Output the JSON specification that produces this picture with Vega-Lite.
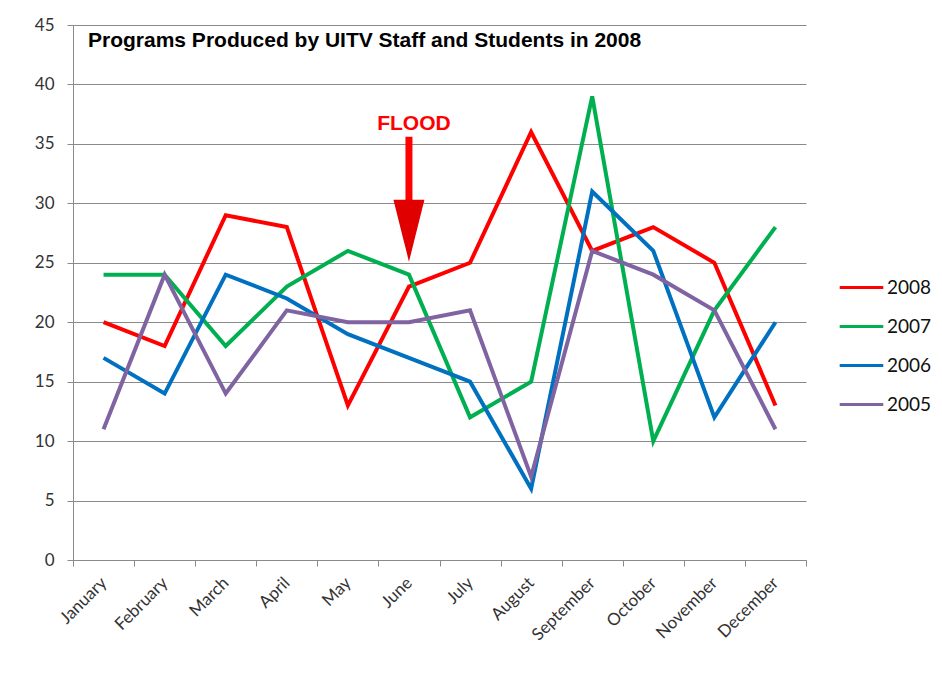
{
  "$schema": "https://vega.github.io/schema/vega-lite/v6.json",
  "width": 733,
  "height": 535,
  "autosize": {"type": "none"},
  "padding": {"left": 73, "top": 25, "right": 136, "bottom": 124},
  "background": "white",
  "title": {
    "text": "Programs Produced by UITV Staff and Students in 2008",
    "anchor": "start",
    "frame": "group",
    "orient": "top",
    "offset": -35,
    "dx": 15,
    "font": "Liberation Sans",
    "fontSize": 21,
    "fontWeight": "bold",
    "color": "black"
  },
  "config": {
    "view": {"stroke": null},
    "axis": {"gridColor": "#8a8a8a", "domainColor": "#8a8a8a", "tickColor": "#8a8a8a", "gridOpacity": 1}
  },
  "layer": [
    {
      "data": {"values": [
        {"month": "January", "year": "2008", "value": 20},
        {"month": "February", "year": "2008", "value": 18},
        {"month": "March", "year": "2008", "value": 29},
        {"month": "April", "year": "2008", "value": 28},
        {"month": "May", "year": "2008", "value": 13},
        {"month": "June", "year": "2008", "value": 23},
        {"month": "July", "year": "2008", "value": 25},
        {"month": "August", "year": "2008", "value": 36},
        {"month": "September", "year": "2008", "value": 26},
        {"month": "October", "year": "2008", "value": 28},
        {"month": "November", "year": "2008", "value": 25},
        {"month": "December", "year": "2008", "value": 13},
        {"month": "January", "year": "2007", "value": 24},
        {"month": "February", "year": "2007", "value": 24},
        {"month": "March", "year": "2007", "value": 18},
        {"month": "April", "year": "2007", "value": 23},
        {"month": "May", "year": "2007", "value": 26},
        {"month": "June", "year": "2007", "value": 24},
        {"month": "July", "year": "2007", "value": 12},
        {"month": "August", "year": "2007", "value": 15},
        {"month": "September", "year": "2007", "value": 39},
        {"month": "October", "year": "2007", "value": 10},
        {"month": "November", "year": "2007", "value": 21},
        {"month": "December", "year": "2007", "value": 28},
        {"month": "January", "year": "2006", "value": 17},
        {"month": "February", "year": "2006", "value": 14},
        {"month": "March", "year": "2006", "value": 24},
        {"month": "April", "year": "2006", "value": 22},
        {"month": "May", "year": "2006", "value": 19},
        {"month": "June", "year": "2006", "value": 17},
        {"month": "July", "year": "2006", "value": 15},
        {"month": "August", "year": "2006", "value": 6},
        {"month": "September", "year": "2006", "value": 31},
        {"month": "October", "year": "2006", "value": 26},
        {"month": "November", "year": "2006", "value": 12},
        {"month": "December", "year": "2006", "value": 20},
        {"month": "January", "year": "2005", "value": 11},
        {"month": "February", "year": "2005", "value": 24},
        {"month": "March", "year": "2005", "value": 14},
        {"month": "April", "year": "2005", "value": 21},
        {"month": "May", "year": "2005", "value": 20},
        {"month": "June", "year": "2005", "value": 20},
        {"month": "July", "year": "2005", "value": 21},
        {"month": "August", "year": "2005", "value": 7},
        {"month": "September", "year": "2005", "value": 26},
        {"month": "October", "year": "2005", "value": 24},
        {"month": "November", "year": "2005", "value": 21},
        {"month": "December", "year": "2005", "value": 11}
      ]},
      "mark": {"type": "line", "strokeWidth": 4, "strokeJoin": "miter"},
      "encoding": {
        "x": {
          "field": "month", "type": "nominal", "sort": null,
          "scale": {"type": "band", "paddingInner": 0, "paddingOuter": 0},
          "axis": {
            "title": null, "labelAngle": -45, "labelAlign": "right", "labelBaseline": "middle",
            "tickBand": "extent", "grid": false, "tickSize": 6, "labelPadding": 14,
            "labelFont": "Lato", "labelFontSize": 17, "labelColor": "#333333"
          }
        },
        "y": {
          "field": "value", "type": "quantitative",
          "scale": {"domain": [0, 45], "nice": false},
          "axis": {
            "title": null, "values": [0, 5, 10, 15, 20, 25, 30, 35, 40, 45],
            "tickSize": 6, "labelPadding": 13, "labelFont": "Lato", "labelFontSize": 17,
            "labelColor": "#333333", "grid": true
          }
        },
        "color": {
          "field": "year", "type": "nominal",
          "scale": {"domain": ["2008", "2007", "2006", "2005"], "range": ["#FF0000", "#00B050", "#0070C0", "#8064A2"]},
          "legend": {
            "title": null, "orient": "none", "legendX": 765, "legendY": 239,
            "symbolType": "stroke", "symbolSize": 1900, "symbolStrokeWidth": 3,
            "labelFont": "Lato", "labelFontSize": 19, "labelColor": "#111111",
            "rowPadding": 5, "labelOffset": 2
          }
        }
      }
    },
    {
      "data": {"values": [{"month": "June", "top": 35.6, "bottom": 30.0}]},
      "mark": {"type": "rule", "color": "#FF0000", "strokeWidth": 7},
      "encoding": {
        "x": {"field": "month", "type": "nominal", "sort": null},
        "y": {"field": "top", "type": "quantitative"},
        "y2": {"field": "bottom"}
      }
    },
    {
      "data": {"values": [{"month": "June", "value": 27.7}]},
      "mark": {"type": "point", "shape": "M-0.5,-1L0.5,-1L0,1Z", "size": 3844, "filled": true, "color": "#E00000", "opacity": 1},
      "encoding": {
        "x": {"field": "month", "type": "nominal", "sort": null},
        "y": {"field": "value", "type": "quantitative"}
      }
    },
    {
      "data": {"values": [{"month": "June", "value": 36.7, "label": "FLOOD"}]},
      "mark": {"type": "text", "color": "#FF0000", "font": "Liberation Sans", "fontSize": 21, "fontWeight": "bold", "dx": 5},
      "encoding": {
        "x": {"field": "month", "type": "nominal", "sort": null},
        "y": {"field": "value", "type": "quantitative"},
        "text": {"field": "label"}
      }
    }
  ]
}
